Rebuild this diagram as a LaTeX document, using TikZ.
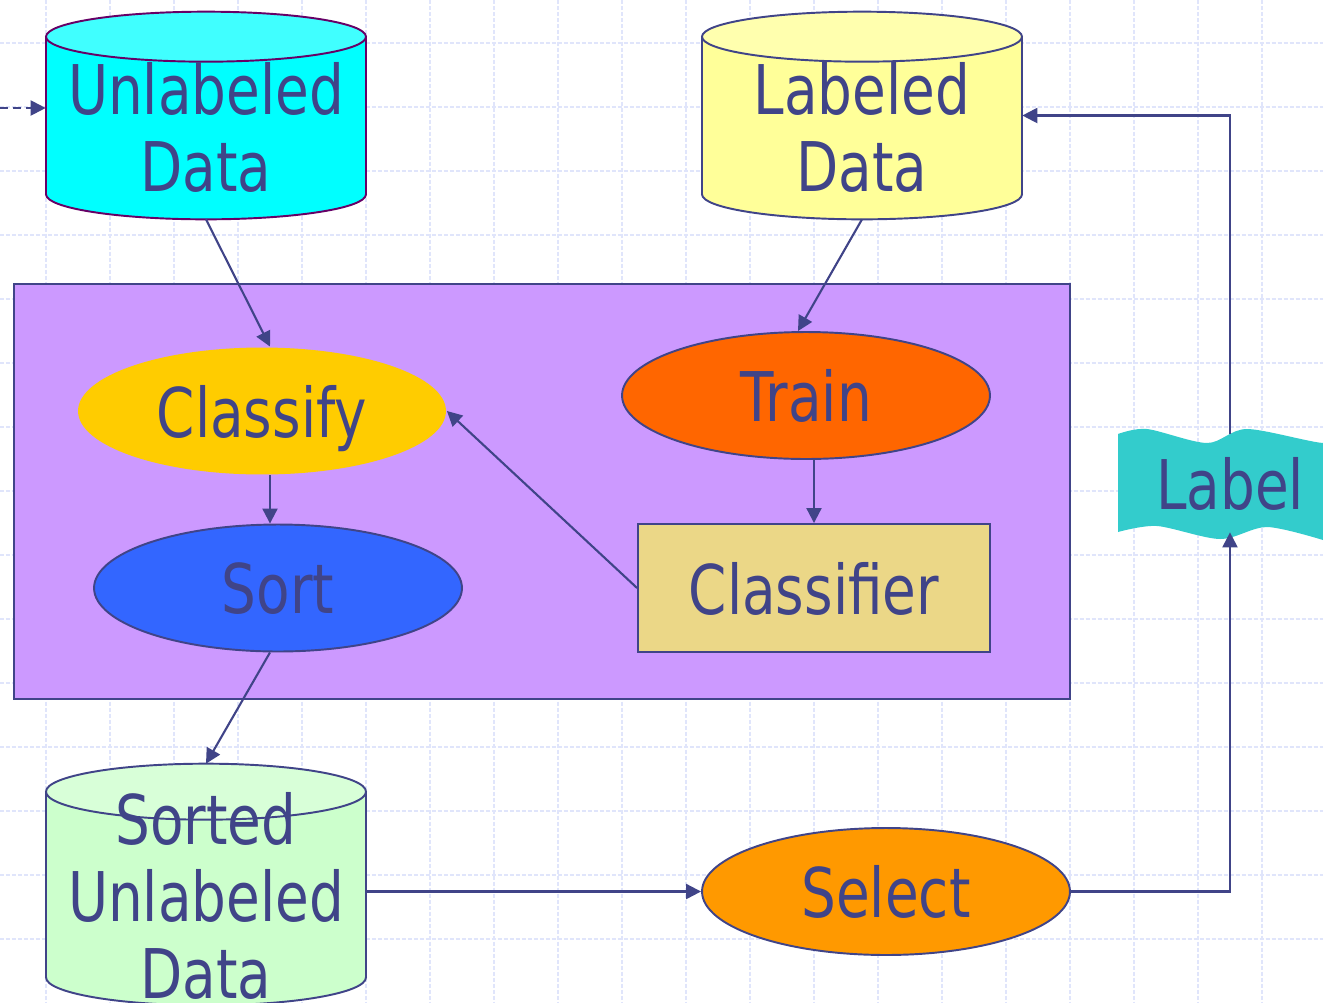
\documentclass[tikz,border=0pt]{standalone}
\usepackage{fontspec}
\setmainfont{DejaVu Sans}[FakeStretch=0.8]
\usepackage{tikz}
\usetikzlibrary{arrows.meta,calc,positioning,shapes.geometric}

\definecolor{inkblue}{RGB}{64,68,136}
\definecolor{gridblue}{RGB}{224,229,251}
\definecolor{plum}{HTML}{660066}
\definecolor{cyanbody}{HTML}{00FFFF}
\definecolor{cyantop}{HTML}{40FFFF}
\definecolor{yelbody}{HTML}{FFFF99}
\definecolor{yeltop}{HTML}{FFFFAE}
\definecolor{grnbody}{HTML}{CCFFCC}
\definecolor{grntop}{HTML}{D8FFD8}
\definecolor{loopfill}{HTML}{CC99FF}
\definecolor{classifyfill}{HTML}{FFCC00}
\definecolor{trainfill}{HTML}{FF6600}
\definecolor{sortfill}{HTML}{3366FF}
\definecolor{clffill}{HTML}{EBD787}
\definecolor{selectfill}{HTML}{FF9900}
\definecolor{labelfill}{HTML}{33CCCC}

\newcommand{\bigfont}{\fontsize{39}{43.8}\selectfont}
% cylinder drawn round a named box: node, body, end, rim, end radius
\newcommand{\drawdb}[5]{%
	\filldraw[fill=#2, draw=#4, line width=1.1pt] ($(#1.south)+(0,-#5)$) ellipse [x radius=160, y radius=#5];
	\fill[#2] ($(#1.north west)+(0,#5)$) rectangle ($(#1.south east)+(0,-#5)$);
	\draw[#4, line width=1.1pt] ($(#1.north west)+(0,#5)$) -- ($(#1.south west)+(0,-#5)$)
		($(#1.north east)+(0,#5)$) -- ($(#1.south east)+(0,-#5)$);
	\filldraw[fill=#3, draw=#4, line width=1.1pt] ($(#1.north)+(0,#5)$) ellipse [x radius=160, y radius=#5];
}

\tikzset{%
	gridline/.style = {gridblue, line width=0.035cm, dash pattern=on 0.08cm off 0.04cm},
	dbbox/.style    = {rectangle, inner sep=0pt, minimum width=6.4cm, minimum height=4.14cm},
	blob/.style     = {ellipse, draw=inkblue, line width=1.1pt, inner sep=0pt, minimum width=7.36cm, minimum height=2.54cm, text=inkblue, text depth=0pt, font=\bigfont},
	procbox/.style  = {rectangle, draw=inkblue, line width=1.1pt, inner sep=0pt, minimum width=7.04cm, minimum height=2.56cm, text=inkblue, text depth=0pt, font=\bigfont},
	txt/.style      = {inner sep=0pt, align=center, text=inkblue, font=\bigfont},
	conn/.style     = {draw=inkblue, line width=1.2pt, -{Triangle[length=0.3cm,width=0.3cm]}},
}

\begin{document}
\begin{tikzpicture}[x=0.02cm, y=-0.02cm]
	\useasboundingbox (0,0) rectangle (1323,1002);
	\clip (0,0) rectangle (1323,1002);
	\fill[white] (0,0) rectangle (1323,1002);
	\foreach \gx in {46,110,...,1310} \draw[gridline] (\gx,0) -- (\gx,1002);  % grid
	\foreach \gy in {43,107,...,1002} \draw[gridline] (0,\gy) -- (1323,\gy);
	\draw[inkblue, fill=loopfill, line width=1.1pt] (14,284) rectangle (1070,699);  % loop area
	% data stores
	\node[dbbox] (unl) at (206,115.5) {};
	\drawdb{unl}{cyanbody}{cyantop}{plum}{25}
	\node[dbbox] (lab) at (862,115.5) {};
	\drawdb{lab}{yelbody}{yeltop}{inkblue}{25}
	\node[dbbox, minimum height=4.82cm] (sorted) at (206,884.5) {};
	\drawdb{sorted}{grnbody}{grntop}{inkblue}{28}
	\node[txt] at (206,127.5) {Unlabeled\\Data};
	\node[txt] at (862,127.5) {Labeled\\Data};
	\node[txt] at (206,896) {Sorted\\Unlabeled\\Data};
	% steps
	\node[blob, fill=classifyfill, draw=none] (classify) at (262,411) {Classify};
	\node[blob, fill=trainfill] (train) at (806,395.5) {Train};
	\node[blob, fill=sortfill] (sort) at (278,588) {Sort};
	\node[procbox, fill=clffill] (clf) at (814,588) {Classifier};
	\node[blob, fill=selectfill] (select) at (886,891.5) {Select};
	\fill[labelfill] plot[smooth] coordinates {(1118,434) (1147,429) (1207,443) (1247,429) (1323,443) (1350,436)}
		-- (1350,535) -- plot[smooth] coordinates {(1323,540) (1267,527) (1220,539) (1157,526) (1118,532)} -- cycle;  % wave
	\node[txt, text depth=0pt, minimum width=1cm, minimum height=1.96cm] (lbl) at (1230,483) {Label};
	% connectors
	\coordinate (feed) at (0,108);
	\coordinate (c1) at ($(classify.south)+(8,0)$);
	\draw[conn, dash pattern=on 0.16cm off 0.1cm] (feed) -- (feed -| unl.west);
	\draw[conn] (unl.south) -- ($(classify.north)+(8,0)$);
	\draw[conn] (lab.south) -- ($(train.north)+(-8,0)$);
	\draw[conn] (c1) -- (c1 |- sort.north);
	\draw[conn] (clf.north |- train.south) -- (clf.north);
	\draw[conn] (clf.west) -- (classify.east);
	\draw[conn] ($(sort.south)+(-8,0)$) -- (sorted.north);
	\draw[conn] (sorted.east |- select.west) -- (select.west);
	\draw[conn] (select.east) -| (lbl.south);
	\draw[conn] (lbl.north) |- (lab.east);
\end{tikzpicture}
\end{document}
